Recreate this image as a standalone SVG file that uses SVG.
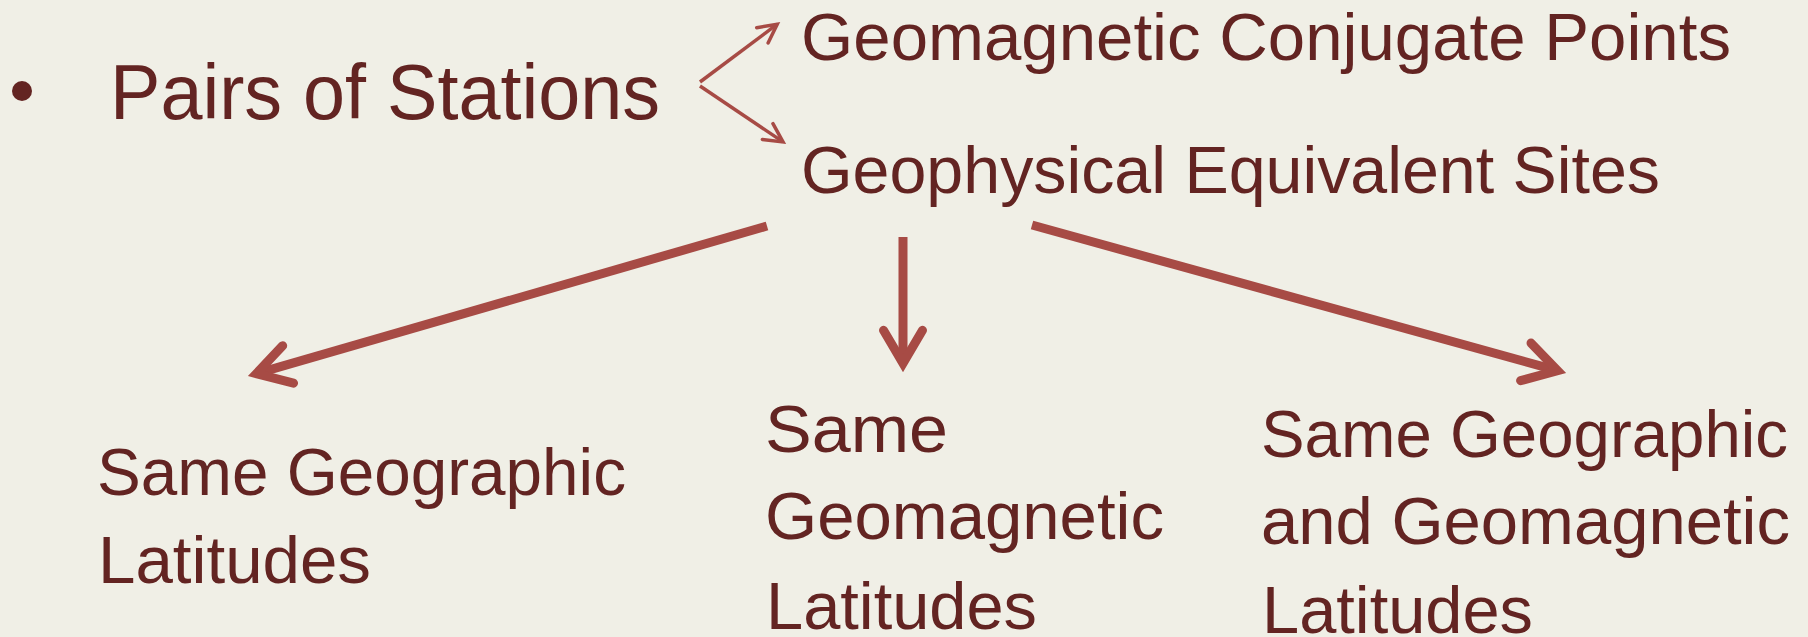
<svg xmlns="http://www.w3.org/2000/svg" width="1808" height="637" viewBox="0 0 1808 637">
  <style>
    .t { font-family: "Liberation Sans", Arial, sans-serif; fill: #632422; }
    .big { font-size: 77px; }
    .md { font-size: 66px; }
    .conn { fill: none; stroke: #A74B45; }
    .thick { stroke-width: 9; }
    .thin { stroke-width: 3.5; }
  </style>
  <defs>
    <marker id="headBig" markerUnits="userSpaceOnUse" orient="auto" refX="0" refY="0" markerWidth="80" markerHeight="80" overflow="visible">
      <path d="M-33,-19.5 L0,0 L-33,19.5" fill="none" stroke="#A74B45" stroke-width="9" stroke-linecap="round" stroke-linejoin="miter" stroke-miterlimit="10"/>
    </marker>
    <marker id="headSmall" markerUnits="userSpaceOnUse" orient="auto" refX="0" refY="0" markerWidth="40" markerHeight="40" overflow="visible">
      <path d="M-18.5,-9.5 L0,0 L-18.5,9.5" fill="none" stroke="#A74B45" stroke-width="3.5" stroke-linecap="round" stroke-linejoin="miter" stroke-miterlimit="10"/>
    </marker>
  </defs>
  <rect x="0" y="0" width="1808" height="637" fill="#F0EFE6"/>

  <g id="pairs">
    <circle cx="22" cy="91" r="10" fill="#632422"/>
    <text class="t big" x="110" y="119" textLength="550" lengthAdjust="spacingAndGlyphs">Pairs of Stations</text>
  </g>

  <g id="conjugate">
    <text class="t md" x="801" y="60" textLength="930" lengthAdjust="spacingAndGlyphs">Geomagnetic Conjugate Points</text>
  </g>

  <g id="equivalent">
    <text class="t md" x="801" y="193" textLength="859" lengthAdjust="spacingAndGlyphs">Geophysical Equivalent Sites</text>
  </g>

  <g id="geographic">
    <text class="t md" x="97" y="495" textLength="529" lengthAdjust="spacingAndGlyphs">Same Geographic</text>
    <text class="t md" x="98" y="583" textLength="273" lengthAdjust="spacingAndGlyphs">Latitudes</text>
  </g>

  <g id="geomagnetic">
    <text class="t md" x="765" y="452" textLength="183" lengthAdjust="spacingAndGlyphs">Same</text>
    <text class="t md" x="765" y="539" textLength="399" lengthAdjust="spacingAndGlyphs">Geomagnetic</text>
    <text class="t md" x="766" y="629" textLength="271" lengthAdjust="spacingAndGlyphs">Latitudes</text>
  </g>

  <g id="both">
    <text class="t md" x="1261" y="457" textLength="527" lengthAdjust="spacingAndGlyphs">Same Geographic</text>
    <text class="t md" x="1261" y="544" textLength="529" lengthAdjust="spacingAndGlyphs">and Geomagnetic</text>
    <text class="t md" x="1262" y="633" textLength="271" lengthAdjust="spacingAndGlyphs">Latitudes</text>
  </g>

  <g id="connectors">
    <path class="conn thin" d="M700,82 L777.2,24.2" marker-end="url(#headSmall)"/>
    <path class="conn thin" d="M700,86 L783,141.9" marker-end="url(#headSmall)"/>
    <path class="conn thick" d="M767,226 L256.4,373.6" marker-end="url(#headBig)"/>
    <path class="conn thick" d="M903,237 L903,363.3" marker-end="url(#headBig)"/>
    <path class="conn thick" d="M1032,225 L1557.6,370.7" marker-end="url(#headBig)"/>
  </g>
</svg>
